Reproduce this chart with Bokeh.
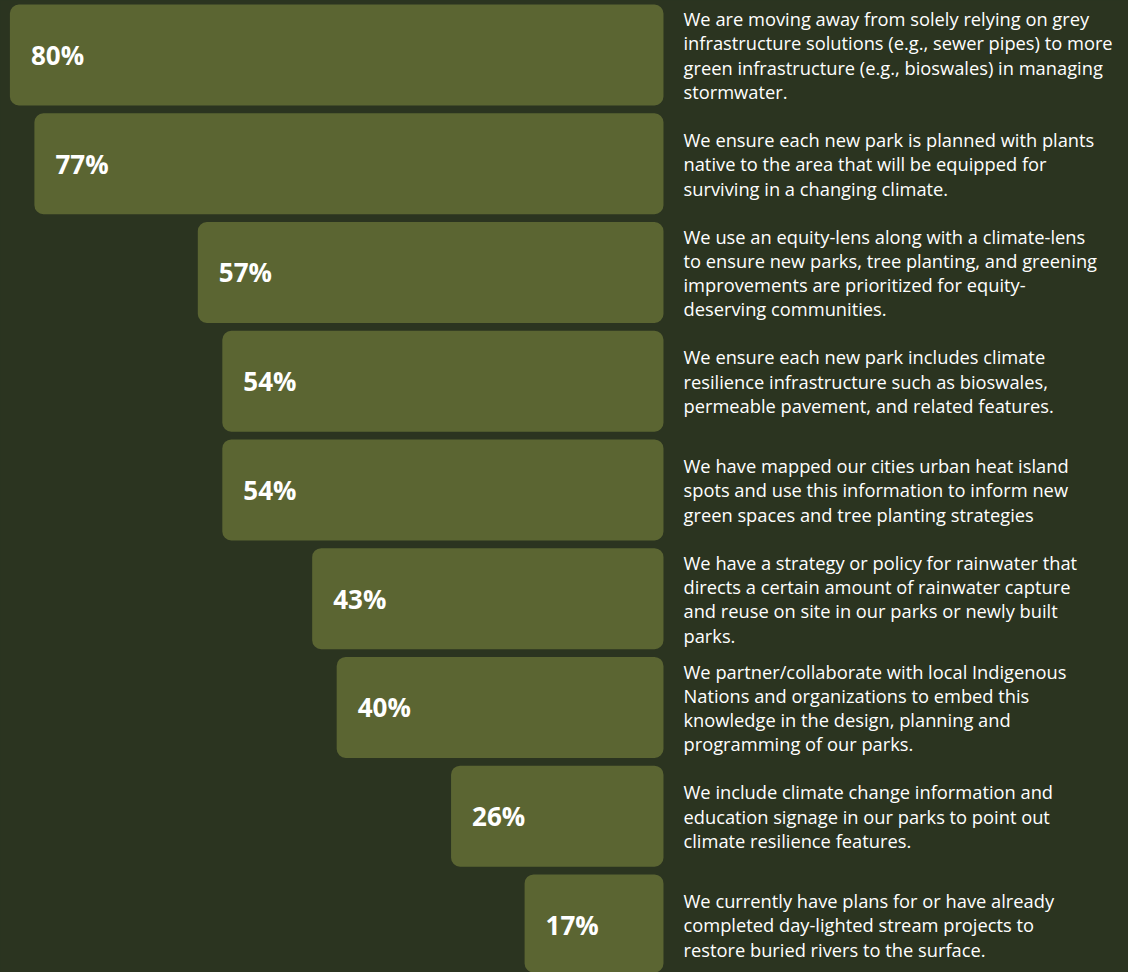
from bokeh.plotting import figure
from bokeh.models import ColumnDataSource, Range1d
from bokeh.core.properties import value
from bokeh.embed import file_html
from bokeh.resources import INLINE

values = [80, 77, 57, 54, 54, 43, 40, 26, 17]
labels = ["80%", "77%", "57%", "54%", "54%", "43%", "40%", "26%", "17%"]
statements = [
    "We are moving away from solely relying on grey\ninfrastructure solutions (e.g., sewer pipes) to more\ngreen infrastructure (e.g., bioswales) in managing\nstormwater.",
    "We ensure each new park is planned with plants\nnative to the area that will be equipped for\nsurviving in a changing climate.",
    "We use an equity-lens along with a climate-lens\nto ensure new parks, tree planting, and greening\nimprovements are prioritized for equity-\ndeserving communities.",
    "We ensure each new park includes climate\nresilience infrastructure such as bioswales,\npermeable pavement, and related features.",
    "We have mapped our cities urban heat island\nspots and use this information to inform new\ngreen spaces and tree planting strategies",
    "We have a strategy or policy for rainwater that\ndirects a certain amount of rainwater capture\nand reuse on site in our parks or newly built\nparks.",
    "We partner/collaborate with local Indigenous\nNations and organizations to embed this\nknowledge in the design, planning and\nprogramming of our parks.",
    "We include climate change information and\neducation signage in our parks to point out\nclimate resilience features.",
    "We currently have plans for or have already\ncompleted day-lighted stream projects to\nrestore buried rivers to the surface.",
]

BG = "#2b3420"
BAR = "#5b6532"

rows = list(range(len(values)))
src = ColumnDataSource(dict(
    y=rows,
    left=[-v for v in values],
    right=[0] * len(values),
    label=labels,
    statement=statements,
    tx=[2.45] * len(values),
))

W, H = 1128, 972
p = figure(width=W, height=H, output_backend="svg", toolbar_location=None,
           x_range=Range1d(-81.15, 56.92), y_range=Range1d(8.437, -0.5011),
           min_border=0, background_fill_color=BG, border_fill_color=BG,
           outline_line_color=None)
p.axis.visible = False
p.grid.visible = False

p.hbar(y="y", left="left", right="right", height=0.9287, source=src,
       fill_color=BAR, line_color=None, border_radius=9)

p.text(x="left", y="y", text="label", source=src, x_offset=21,
       text_font=value("Open Sans"), text_font_style="bold",
       text_font_size="26px", text_color="white", text_baseline="middle")

p.text(x="tx", y="y", text="statement", source=src,
       text_font=value("Open Sans"), text_font_size="18.3px",
       text_color="white", text_baseline="middle", text_line_height=0.971)

html = file_html(p, INLINE)
html = html.replace("<head>", "<head><style>html,body{background:%s;}</style>" % BG, 1)
open("out.html", "w").write(html)
